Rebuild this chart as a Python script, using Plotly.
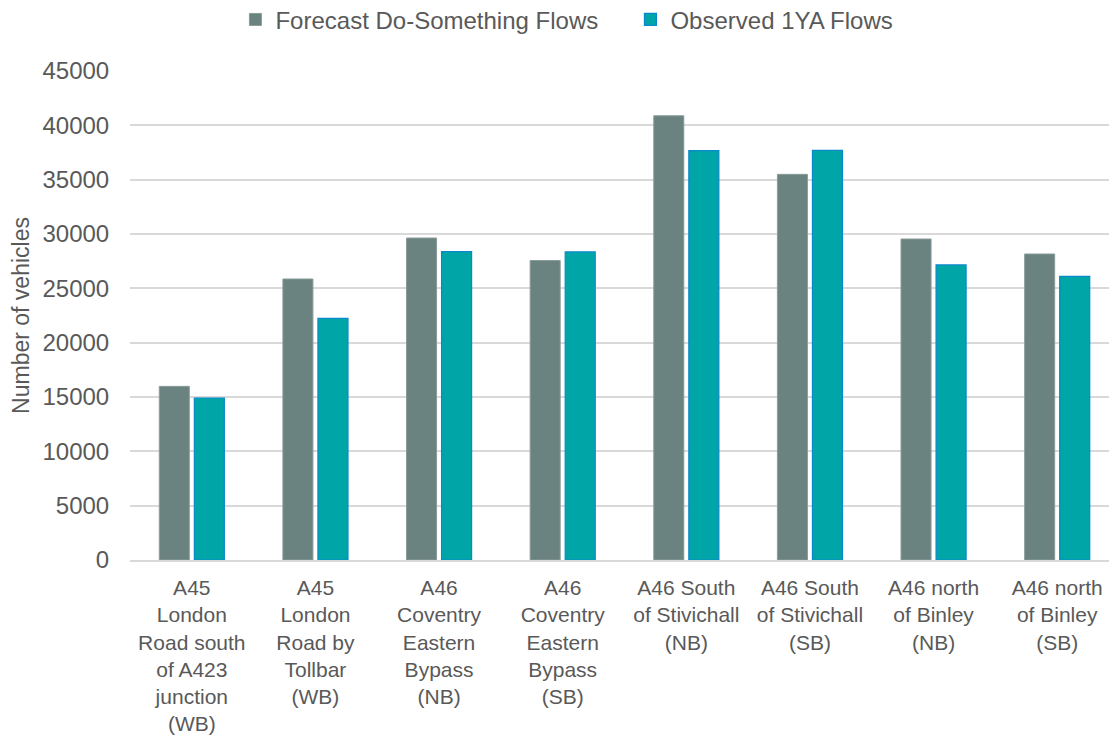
import plotly.graph_objects as go

categories = [
    "A45<br>London<br>Road south<br>of A423<br>junction<br>(WB)",
    "A45<br>London<br>Road by<br>Tollbar<br>(WB)",
    "A46<br>Coventry<br>Eastern<br>Bypass<br>(NB)",
    "A46<br>Coventry<br>Eastern<br>Bypass<br>(SB)",
    "A46 South<br>of Stivichall<br>(NB)",
    "A46 South<br>of Stivichall<br>(SB)",
    "A46 north<br>of Binley<br>(NB)",
    "A46 north<br>of Binley<br>(SB)",
]
forecast = [15980, 25860, 29630, 27560, 40880, 35490, 29540, 28160]
observed = [14910, 22240, 28380, 28350, 37670, 37690, 27150, 26100]
y_ticks = [0, 5000, 10000, 15000, 20000, 25000, 30000, 35000, 40000, 45000]

TXT = "#595959"
FONT = "Liberation Sans, Arial, sans-serif"

fig = go.Figure()
fig.add_trace(go.Bar(
    x=categories, y=forecast, name="Forecast Do-Something Flows",
    marker=dict(color="#6A8280", line=dict(color="#8A9C9A", width=1)),
))
fig.add_trace(go.Bar(
    x=categories, y=observed, name="Observed 1YA Flows",
    marker=dict(color="#00A5A8", line=dict(color="#0A88CC", width=1.2)),
))

fig.update_layout(
    width=1117, height=740,
    margin=dict(l=122, r=6, t=63, b=188),
    paper_bgcolor="white", plot_bgcolor="white",
    font=dict(family=FONT, size=23, color=TXT),
    barmode="group", bargap=0.433, bargroupgap=0.143,
    showlegend=True,
    legend=dict(orientation="h", x=0.506, xanchor="center",
                y=0.984, yref="container", yanchor="middle",
                font=dict(size=24, color=TXT), itemwidth=30, traceorder="normal",
                entrywidth=350, entrywidthmode="pixels",
                bgcolor="rgba(0,0,0,0)"),
)

fig.update_xaxes(
    automargin=False,
    showline=True, linecolor="#D9D9D9", linewidth=1.5,
    ticks="outside", ticklen=8, tickcolor="rgba(0,0,0,0)",
    tickfont=dict(size=21, color=TXT), tickangle=0,
)
fig.update_yaxes(
    automargin=False,
    range=[0, 45000], tickvals=y_ticks, ticktext=[str(v) for v in y_ticks],
    showgrid=True, gridcolor="#D9D9D9", gridwidth=1.5,
    zeroline=False, showline=False,
    ticks="outside", ticklen=15, tickcolor="rgba(0,0,0,0)",
    tickfont=dict(size=24, color=TXT),
    title=dict(text="Number of vehicles", font=dict(size=23, color=TXT), standoff=8),
)

fig.write_html("out.html")
